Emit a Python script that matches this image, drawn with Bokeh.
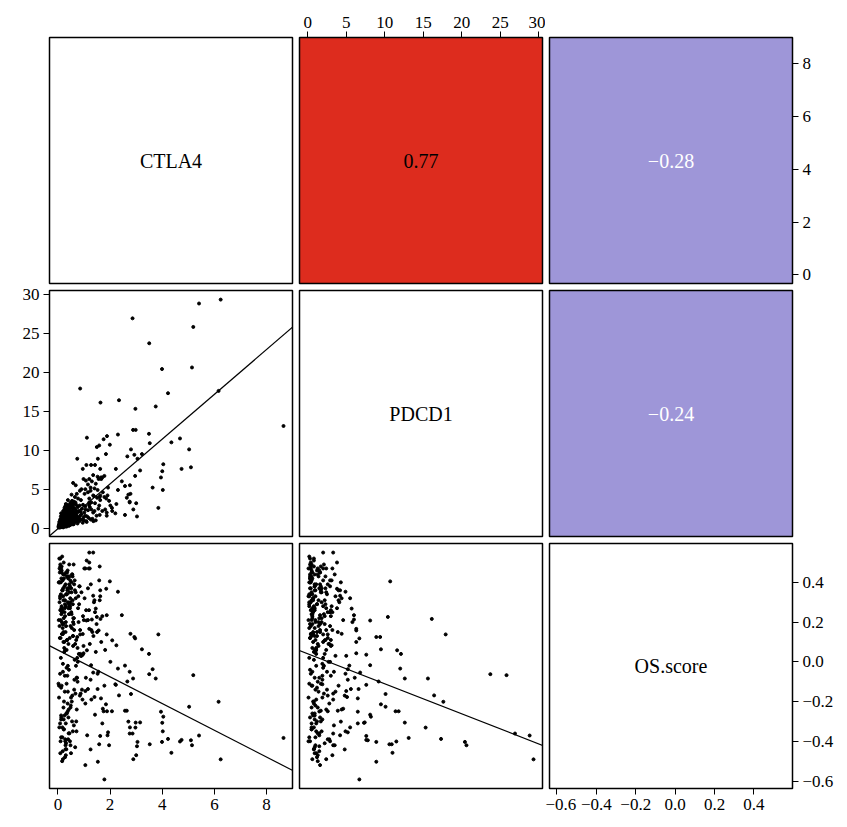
import numpy as np
from bokeh.plotting import figure
from bokeh.layouts import gridplot
from bokeh.models import Range1d, FixedTicker, CustomJSTickFormatter, Slope, Label
from bokeh.embed import file_html
from bokeh.resources import INLINE

var_names = ["CTLA4", "PDCD1", "OS.score"]
cor_values = [0.77, -0.28, -0.24]          # pairs (CTLA4,PDCD1), (CTLA4,OS), (PDCD1,OS)
cor_fill = ["#DD2C1E", "#9E96D8", "#9E96D8"]
cor_text_color = ["black", "white", "white"]

# linear fits: [intercept, slope]
fit_pdcd1_on_ctla4 = [-0.06, 2.87]
fit_os_on_ctla4 = [0.059, -0.0673]
fit_os_on_pdcd1 = [0.041, -0.01515]

ctla4_ticks = [0, 2, 4, 6, 8]
pdcd1_ticks = [0, 5, 10, 15, 20, 25, 30]
os_ticks = [-0.6, -0.4, -0.2, 0.0, 0.2, 0.4]

ctla4_hi = [8.65, 6.24, 5.41, 5.19, 5.14, 3.99, 6.16, 2.86, 3.50, 4.22,
            0.85, 1.63, 2.34, 2.97, 3.75, 2.88, 2.98, 3.49, 2.30, 1.88,
            1.11, 1.75, 4.68, 4.35, 3.52, 1.58, 1.49, 1.99, 2.80, 5.03,
            0.74, 1.53, 1.84, 2.66, 2.93, 3.05, 3.22, 1.09, 1.27, 1.42,
            0.95, 1.62, 2.22, 3.15, 4.74, 5.10, 4.04, 4.00, 3.95, 4.02,
            2.96, 2.45, 2.57, 2.76, 3.63, 2.70, 2.78, 2.75, 2.75, 2.07,
            2.08, 3.85, 2.57, 3.03, 1.78, 2.30, 1.85, 2.24, 2.01, 1.81,
            2.20, 1.87, 1.87, 1.72, 1.90, 1.96, 2.64, 2.89, 3.00, 1.45,
            1.30, 1.20, 1.56, 0.98, 1.35, 1.15, 1.52, 1.05, 1.40, 1.65,
            1.25, 1.92, 1.70, 1.35, 1.60, 1.20, 1.05, 1.22, 1.58, 1.62]
pdcd1_hi = [13.1, 29.3, 28.8, 25.8, 20.6, 20.4, 17.6, 26.9, 23.7, 17.3,
            17.9, 16.1, 16.4, 15.3, 15.6, 12.6, 12.6, 12.1, 12.0, 11.8,
            11.6, 11.4, 11.5, 11.0, 10.9, 10.6, 10.4, 10.7, 10.1, 10.1,
            8.9, 8.9, 9.5, 9.2, 9.4, 8.9, 9.5, 8.1, 8.1, 8.1,
            7.6, 7.6, 7.6, 7.4, 7.6, 7.8, 8.2, 7.3, 6.5, 4.9,
            6.7, 6.0, 5.4, 5.5, 5.2, 4.3, 4.4, 3.4, 3.3, 2.6,
            2.2, 2.6, 1.7, 1.5, 6.7, 4.9, 3.8, 3.1, 2.9, 2.4,
            1.9, 1.6, 2.0, 4.6, 4.2, 3.5, 3.9, 2.4, 3.2, 5.7,
            6.0, 6.3, 6.3, 6.3, 6.8, 5.6, 6.6, 5.0, 5.1, 6.5,
            4.8, 5.2, 6.5, 4.2, 4.0, 3.3, 2.4, 3.2, 2.9, 4.2]
os_hi = [-0.383, -0.491, -0.371, -0.067, -0.420, -0.403, -0.201, -0.361, -0.062, -0.388,
         0.138, 0.216, -0.169, -0.331, -0.084, -0.084, -0.306, 0.040, -0.034, -0.249,
         0.058, -0.249, -0.401, -0.458, -0.415, -0.415, 0.226, 0.405, -0.162, -0.226,
         0.125, -0.503, -0.214, -0.099, 0.125, -0.403, 0.063, 0.208, -0.017, -0.266,
         0.036, -0.373, -0.116, -0.305, -0.393, -0.395, -0.276, -0.307, -0.251, -0.350,
         0.118, 0.235, -0.019, -0.330, -0.037, -0.301, 0.141, -0.050, -0.361, -0.249,
         0.108, 0.138, -0.246, -0.425, -0.592, 0.353, 0.368, 0.083, 0.000, 0.060,
         -0.113, 0.235, 0.138, -0.236, -0.370, -0.420, -0.246, -0.490, -0.470, 0.268,
         0.213, 0.166, 0.158, 0.043, -0.054, -0.137, -0.137, -0.147, -0.177, -0.184,
         -0.441, -0.355, -0.310, 0.333, 0.310, 0.550, 0.470, 0.470, 0.410, 0.360]

ctla4_lo = [0.05, 0.12, 0.18, 0.25, 0.31, 0.08, 0.42, 0.15, 0.22, 0.36,
            0.48, 0.55, 0.10, 0.27, 0.33, 0.61, 0.19, 0.07, 0.40, 0.29,
            0.14, 0.52, 0.66, 0.23, 0.38, 0.11, 0.45, 0.72, 0.20, 0.03,
            0.34, 0.58, 0.09, 0.26, 0.47, 0.17, 0.80, 0.30, 0.13, 0.62,
            0.21, 0.44, 0.06, 0.37, 0.69, 0.16, 0.28, 0.53, 0.11, 0.75,
            0.39, 0.04, 0.24, 0.57, 0.32, 0.85, 0.18, 0.49, 0.09, 0.64,
            0.27, 0.13, 0.43, 0.70, 0.22, 0.35, 0.08, 0.56, 0.92, 0.15,
            0.30, 0.46, 0.19, 0.63, 0.05, 0.41, 0.78, 0.24, 0.12, 0.51,
            0.36, 0.67, 0.10, 0.29, 0.98, 0.20, 0.54, 0.07, 0.44, 0.33,
            0.16, 0.60, 0.25, 0.88, 0.38, 0.02, 0.47, 0.71, 0.21, 0.14,
            1.05, 0.31, 0.50, 0.09, 0.26, 0.82, 0.40, 0.17, 0.59, 0.34,
            0.12, 0.45, 0.76, 0.23, 1.12, 0.06, 0.37, 0.65, 0.28, 0.19,
            0.52, 0.94, 0.14, 0.42, 0.08, 0.31, 1.20, 0.57, 0.22, 0.68,
            0.35, 0.11, 0.48, 0.79, 0.18, 0.27, 1.01, 0.04, 0.43, 0.61,
            0.25, 0.73, 0.13, 0.39, 1.28, 0.20, 0.55, 0.09, 0.86, 0.32,
            0.47, 0.16, 1.15, 0.29, 0.62, 0.07, 0.41, 0.96, 0.24, 0.53,
            1.35, 0.18, 0.70, 0.34, 0.10, 0.58, 1.08, 0.27, 0.44, 0.15,
            0.83, 0.38, 0.21, 1.42, 0.50, 0.06, 0.66, 0.30, 1.18, 0.12,
            0.45, 0.90, 0.23, 0.56, 1.25, 0.14, 0.37, 0.74, 0.03, 1.48,
            0.28, 0.60, 0.19, 1.02, 0.42, 0.09, 1.32, 0.51, 0.33, 0.77,
            1.55, 0.22, 0.64, 0.40, 1.10, 0.16, 0.87, 0.31, 1.38, 0.48,
            0.11, 1.22, 0.57, 0.26, 0.95, 1.62, 0.36, 0.13, 0.72, 1.45,
            0.20, 1.05, 0.46, 1.70, 0.08, 0.81, 0.35, 1.28, 0.54, 0.17,
            1.15, 0.62, 0.29, 1.52, 0.43, 0.99, 0.12, 1.36, 0.68, 0.25,
            0.38, 1.60, 0.75, 0.05, 1.19, 0.52, 1.78, 0.33, 0.90, 0.21,
            1.26, 0.46, 1.66, 0.14, 0.84, 1.40, 0.58, 1.07, 0.30, 1.50]
pdcd1_lo = [0.3, 0.4, 0.5, 0.9, 0.6, 0.2, 1.2, 0.7, 0.4, 1.0,
            1.4, 0.9, 0.3, 0.5, 1.1, 1.8, 0.6, 0.2, 0.8, 0.7,
            0.6, 1.7, 1.3, 0.8, 0.5, 0.2, 2.0, 1.5, 0.3, 0.1,
            0.9, 1.2, 0.4, 1.4, 0.7, 0.3, 2.2, 0.5, 0.5, 2.6,
            0.7, 1.5, 0.2, 1.2, 2.1, 0.4, 0.3, 0.9, 0.6, 1.3,
            0.6, 0.1, 1.1, 2.3, 0.8, 1.6, 0.9, 1.0, 0.3, 0.8,
            0.6, 0.3, 0.9, 3.0, 0.5, 1.6, 0.4, 0.7, 2.5, 1.0,
            1.3, 0.6, 0.4, 1.9, 0.3, 2.4, 1.0, 0.8, 0.2, 2.9,
            0.4, 3.3, 0.5, 1.0, 1.4, 1.3, 1.2, 0.3, 0.5, 2.0,
            0.2, 0.6, 0.7, 3.6, 1.8, 0.2, 3.1, 1.1, 1.6, 0.8,
            2.8, 0.4, 1.1, 0.6, 1.9, 0.9, 2.8, 0.5, 1.5, 0.3,
            1.2, 0.8, 2.7, 0.3, 1.5, 0.4, 1.5, 4.0, 0.9, 0.6,
            2.1, 1.1, 0.5, 0.3, 0.7, 2.2, 3.8, 0.5, 0.9, 2.4,
            1.0, 0.4, 0.5, 1.4, 1.5, 0.2, 2.0, 0.5, 1.8, 3.4,
            0.3, 0.9, 0.9, 2.6, 2.4, 0.1, 2.6, 0.8, 1.1, 0.6,
            0.4, 1.3, 4.6, 1.6, 1.0, 0.5, 1.3, 3.0, 2.0, 0.7,
            2.0, 0.2, 1.7, 2.5, 0.1, 3.0, 0.9, 1.2, 2.3, 0.4,
            2.9, 1.1, 1.4, 3.2, 1.9, 0.1, 0.9, 1.8, 1.3, 0.9,
            2.6, 1.8, 0.5, 1.4, 5.2, 0.2, 0.8, 2.0, 0.3, 1.6,
            2.8, 0.5, 1.9, 4.4, 0.6, 0.9, 1.2, 1.5, 1.7, 3.8,
            2.5, 0.6, 2.0, 1.6, 0.8, 1.7, 2.1, 2.9, 4.1, 3.3,
            1.5, 2.7, 1.8, 2.4, 0.7, 3.6, 3.0, 0.3, 4.4, 1.0,
            2.2, 1.6, 1.7, 2.2, 1.1, 1.2, 2.3, 3.3, 3.5, 1.0,
            2.3, 3.2, 0.8, 4.9, 2.1, 1.0, 1.9, 0.9, 5.5, 2.6,
            3.6, 1.7, 0.6, 0.8, 3.0, 4.3, 4.0, 0.2, 5.0, 1.3,
            1.1, 2.9, 6.3, 1.6, 4.8, 2.2, 5.8, 6.1, 3.1, 3.9]
os_lo = [0.52, 0.47, 0.41, 0.38, 0.45, 0.33, 0.29, 0.25, 0.50, 0.36,
         0.18, 0.44, 0.12, 0.31, 0.06, 0.22, -0.05, 0.40, 0.27, 0.15,
         -0.12, 0.35, 0.09, -0.20, 0.43, 0.02, 0.28, -0.08, 0.37, 0.21,
         -0.26, 0.13, 0.48, -0.15, 0.32, 0.19, 0.04, -0.31, 0.24, 0.39,
         0.10, -0.36, 0.30, 0.46, -0.02, 0.26, -0.40, 0.17, 0.34, -0.10,
         0.42, -0.18, 0.07, 0.29, -0.44, 0.16, 0.36, -0.22, 0.49, 0.01,
         0.23, -0.28, 0.39, 0.11, -0.34, 0.45, -0.06, 0.31, -0.14, 0.20,
         -0.47, 0.27, 0.14, -0.09, 0.40, -0.24, 0.33, 0.05, -0.38, 0.25,
         0.37, -0.16, 0.21, -0.42, 0.08, 0.44, -0.30, 0.12, 0.35, -0.03,
         0.53, 0.19, -0.27, 0.03, 0.30, -0.11, 0.41, -0.35, 0.15, 0.48,
         -0.21, 0.34, -0.46, 0.26, -0.07, 0.38, 0.09, -0.33, 0.22, 0.43,
         -0.13, 0.28, 0.00, 0.42, -0.37, 0.18, -0.25, 0.36, 0.06, -0.49,
         0.24, -0.19, 0.46, -0.04, 0.32, -0.41, 0.50, 0.13, -0.29, 0.35,
         0.11, 0.40, -0.23, 0.20, -0.45, 0.29, 0.47, -0.12, 0.37, -0.32,
         0.44, -0.08, 0.27, -0.39, 0.16, 0.33, -0.17, 0.52, 0.04, -0.26,
         0.30, -0.50, 0.21, 0.39, -0.14, 0.45, -0.36, 0.23, 0.10, -0.20,
         0.55, 0.17, -0.30, 0.34, -0.40, 0.08, 0.26, -0.48, 0.43, 0.14,
         0.38, -0.02, 0.31, 0.25, -0.18, 0.47, -0.43, 0.20, 0.47, -0.27,
         0.12, 0.35, -0.34, 0.43, -0.09, 0.28, -0.21, 0.02, 0.40, 0.19,
         -0.39, 0.49, -0.01, 0.32, 0.24, -0.46, 0.15, 0.37, -0.11, 0.27,
         -0.05, 0.22, 0.41, -0.28, 0.51, 0.36, -0.16, 0.18, 0.30, -0.42,
         0.46, 0.09, -0.35, 0.27, 0.14, 0.33, -0.07, 0.42, -0.24, 0.05,
         0.19, -0.52, 0.38, 0.23, -0.31, 0.29, 0.11, -0.19, 0.44, -0.38,
         0.37, 0.16, -0.44, -0.06, 0.49, 0.21, -0.29, 0.13, 0.32, 0.25,
         -0.15, 0.48, 0.07, -0.33, 0.26, 0.40, -0.12, 0.34, 0.03, -0.23,
         0.39, -0.40, 0.10, 0.45, -0.17, 0.31, 0.20, -0.08, 0.28, 0.15]

ctla4 = ctla4_hi + ctla4_lo
pdcd1 = pdcd1_hi + pdcd1_lo
os_score = os_hi + os_lo
data = [ctla4, pdcd1, os_score]
ticks = [ctla4_ticks, pdcd1_ticks, os_ticks]
fits = {(1, 0): fit_pdcd1_on_ctla4, (2, 0): fit_os_on_ctla4, (2, 1): fit_os_on_pdcd1}
cor_index = {(0, 1): 0, (0, 2): 1, (1, 2): 2}

TEXT_FONT = "Liberation Serif"
AXIS_FONT = "Liberation Serif"


def data_range(v):
    lo, hi = float(np.min(v)), float(np.max(v))
    pad = 0.04 * (hi - lo)
    return lo - pad, hi + pad


ranges = [data_range(v) for v in data]

minus_fmt = CustomJSTickFormatter(code="""
    const s = Math.abs(tick) < 1e-9 ? (0).toFixed(1) : tick.toFixed(1);
    return s.replace('-', '\u2212');
""")

axes_shown = {
    (0, 1): ("above", None),
    (0, 2): (None, "right"),
    (1, 0): (None, "left"),
    (2, 0): ("below", None),
    (2, 2): ("below", "right"),
}

FW = 243
frame_h = [246, 246, 245]
border_left = [49, 4, 4]
border_right = [3, 3, 50]
border_top = [37, 4, 4]
border_bottom = [3, 3, 32]


def style_axis(ax, var):
    ax.ticker = FixedTicker(ticks=ticks[var])
    if var == 2:
        ax.formatter = minus_fmt
    ax.axis_line_color = None
    ax.major_tick_line_color = "black"
    ax.major_tick_line_width = 1
    ax.major_tick_in = 0
    ax.major_tick_out = 6
    ax.minor_tick_line_color = None
    ax.major_label_standoff = 4
    ax.major_label_orientation = "horizontal"
    ax.major_label_text_font = AXIS_FONT
    ax.major_label_text_font_size = "17px"
    ax.major_label_text_color = "black"


rows = []
for r in range(3):
    row = []
    for c in range(3):
        xloc, yloc = axes_shown.get((r, c), (None, None))
        xr = Range1d(*ranges[c])
        yr = Range1d(*ranges[r])
        p = figure(frame_width=FW, frame_height=frame_h[r],
                   x_range=xr, y_range=yr,
                   x_axis_location=xloc, y_axis_location=yloc,
                   toolbar_location=None, output_backend="svg",
                   min_border_left=border_left[c], min_border_right=border_right[c],
                   min_border_top=border_top[r], min_border_bottom=border_bottom[r])
        p.xgrid.visible = False
        p.ygrid.visible = False
        p.outline_line_color = "black"
        p.outline_line_width = 1.5
        p.background_fill_color = "white"
        p.border_fill_color = "white"
        if xloc is not None:
            style_axis(p.xaxis[0], c)
        if yloc is not None:
            style_axis(p.yaxis[0], r)

        cx = 0.5 * (ranges[c][0] + ranges[c][1])
        cy = 0.5 * (ranges[r][0] + ranges[r][1])
        if r == c:
            p.add_layout(Label(x=cx, y=cy, text=var_names[r], text_align="center",
                               text_baseline="middle", text_font=TEXT_FONT,
                               text_font_size="20px", text_color="black"))
        elif r < c:
            k = cor_index[(r, c)]
            p.background_fill_color = cor_fill[k]
            label = f"{cor_values[k]:.2f}".replace("-", "\u2212")
            p.add_layout(Label(x=cx, y=cy, text=label, text_align="center",
                               text_baseline="middle", text_font=TEXT_FONT,
                               text_font_size="20px", text_color=cor_text_color[k]))
        else:
            p.scatter(data[c], data[r], size=3, color="black", line_color="black")
            b0, b1 = fits[(r, c)]
            p.add_layout(Slope(gradient=b1, y_intercept=b0,
                               line_color="black", line_width=1.2))
        row.append(p)
    rows.append(row)

grid = gridplot(rows, toolbar_location=None)

with open("out.html", "w") as f:
    f.write(file_html(grid, INLINE))
